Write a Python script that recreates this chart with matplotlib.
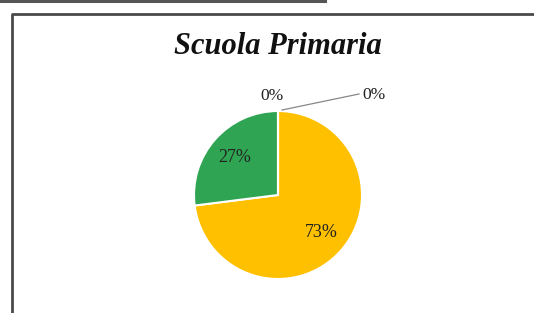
import matplotlib

matplotlib.use("Agg")
import matplotlib.pyplot as plt
import numpy as np
from matplotlib.lines import Line2D

categories = ["A", "B", "C", "D"]
values = [73, 27, 0, 0]
colors = ["#FFC000", "#2FA553", "#4472C4", "#A5A5A5"]

W, H = 534, 313
fig = plt.figure(figsize=(W / 100, H / 100), dpi=100)
ax = fig.add_axes([0, 0, 1, 1])
ax.set_xlim(0, W)
ax.set_ylim(0, H)
ax.set_aspect("equal")
ax.axis("off")

serif = ["Liberation Serif", "DejaVu Serif"]

# page decorations: line above and chart frame
fig.add_artist(Line2D([0, 325 / W], [1 - 1 / H, 1 - 1 / H], color="#555555", lw=2.2))
fig.add_artist(Line2D([11.5 / W, 11.5 / W, 1.0], [0, 1 - 13.5 / H, 1 - 13.5 / H], color="#4a4a4a", lw=2.0))

cx, cy, r = 278, H - 195, 84
wedges, _ = ax.pie(values, colors=colors, startangle=90, counterclock=False,
                   center=(cx, cy), radius=r, frame=True,
                   wedgeprops=dict(edgecolor="white", linewidth=1.5))
ax.set_xlim(0, W)
ax.set_ylim(0, H)
ax.axis("off")

total = sum(values)
cum = 0
zero_pos = [(272, H - 96), (374, H - 95)]
zi = 0
for v in values:
    mid = 90 - 360 * (cum + v / 2) / total
    cum += v
    lab = f"{round(100 * v / total)}%"
    if v > 0:
        a = np.deg2rad(mid)
        ax.text(cx + 0.68 * r * np.cos(a), cy + 0.68 * r * np.sin(a), lab,
                ha="center", va="center", fontsize=13, family=serif, color="#222222")
    else:
        x, y = zero_pos[zi]
        ax.text(x, y, lab, ha="center", va="center", fontsize=12.5, family=serif, color="#222222")
        if zi == 1:
            ax.plot([cx + 4, x - 15], [cy + r + 1, y + 1], color="#888888", lw=0.9)
        zi += 1

ax.text(cx, H - 46, "Scuola Primaria", ha="center", va="center", fontsize=22,
        family=serif, fontweight="bold", fontstyle="italic", color="#111111")

fig.savefig("out.png", dpi=100, facecolor="white")
